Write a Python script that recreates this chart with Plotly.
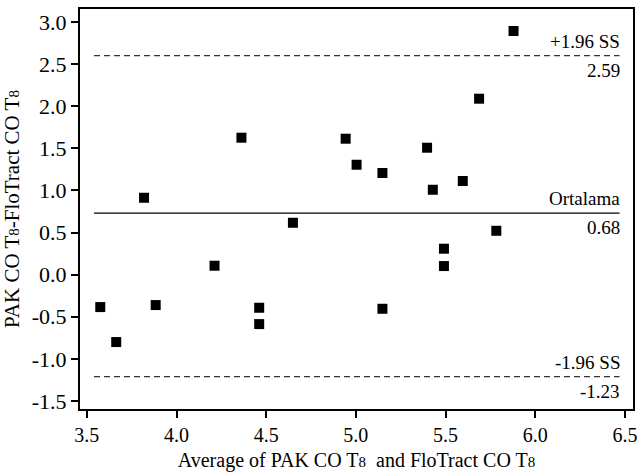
import plotly.graph_objects as go

# Data (Bland-Altman plot)
avg_values = [3.819, 4.362, 4.649, 5.879, 5.687, 4.943, 5.397, 5.004, 5.148, 5.429,
              5.596, 5.783, 3.575, 3.664, 3.884, 4.212, 4.461, 4.461, 5.491, 5.491, 5.148]
diff_values = [0.913, 1.626, 0.616, 2.893, 2.089, 1.614, 1.507, 1.305, 1.207, 1.008,
               1.112, 0.521, -0.385, -0.80, -0.361, 0.106, -0.393, -0.587, 0.308, 0.102, -0.405]

# Reference lines (drawn position) and their labels
line_levels = [2.60, 0.73, -1.21]
line_names = ["+1.96 SS", "Ortalama", "-1.96 SS"]
line_values = ["2.59", "0.68", "-1.23"]
line_dashes = ["dash", "solid", "dash"]
line_span = [3.54, 6.47]

x_ticks = [3.5, 4.0, 4.5, 5.0, 5.5, 6.0, 6.5]
x_ticktext = ["3.5", "4.0", "4.5", "5.0", "5.5", "6.0", "6.5"]
y_ticks = [-1.5, -1.0, -0.5, 0.0, 0.5, 1.0, 1.5, 2.0, 2.5, 3.0]
y_ticktext = ["-1.5", "-1.0", "-0.5", "0.0", "0.5", "1.0", "1.5", "2.0", "2.5", "3.0"]

FONT = "Liberation Serif, Times New Roman, serif"
sub8 = '<span style="font-size:15px">8</span>'

fig = go.Figure()
fig.add_trace(go.Scatter(
    x=avg_values, y=diff_values, mode="markers",
    marker=dict(symbol="square", size=10, color="black"),
    showlegend=False, hoverinfo="skip"))

for lvl, name, val, dash in zip(line_levels, line_names, line_values, line_dashes):
    fig.add_shape(type="line", xref="x", yref="y",
                  x0=line_span[0], x1=line_span[1], y0=lvl, y1=lvl,
                  line=dict(color="black" if dash == "solid" else "#333333",
                            width=1.3, dash="solid" if dash == "solid" else "6px,4px"))
    fig.add_annotation(x=line_span[1], y=lvl, xref="x", yref="y", text=name,
                       showarrow=False, xanchor="right", yanchor="bottom",
                       font=dict(size=19, color="black", family=FONT), yshift=2, xshift=2)
    fig.add_annotation(x=line_span[1], y=lvl, xref="x", yref="y", text=val,
                       showarrow=False, xanchor="right", yanchor="top",
                       font=dict(size=19, color="black", family=FONT), yshift=-2, xshift=2)

fig.update_xaxes(range=[3.462, 6.545], tickvals=x_ticks, ticktext=x_ticktext,
                 showgrid=False, zeroline=False, showline=True, linecolor="black",
                 linewidth=2, mirror=True, ticks="outside", ticklen=7, tickwidth=2,
                 tickcolor="black", ticklabeloverflow="allow", automargin=False,
                 tickfont=dict(size=20, color="black", family=FONT),
                 title=dict(text="Average of PAK CO T" + sub8 + "  and FloTract CO T" + sub8,
                            font=dict(size=20, color="black", family=FONT), standoff=8))
fig.update_yaxes(range=[-1.595, 3.154], tickvals=y_ticks, ticktext=y_ticktext,
                 showgrid=False, zeroline=False, showline=True, linecolor="black",
                 linewidth=2, mirror=True, ticks="outside", ticklen=7, tickwidth=2,
                 tickcolor="black", ticklabeloverflow="allow", automargin=False,
                 tickfont=dict(size=22, color="black", family=FONT),
                 title=dict(text="PAK CO T" + sub8 + "-FloTract CO T" + sub8,
                            font=dict(size=21, color="black", family=FONT), standoff=6))

fig.update_layout(width=637, height=476, margin=dict(l=80, r=4, t=9, b=67),
                  plot_bgcolor="white", paper_bgcolor="white",
                  font=dict(family=FONT, color="black"))
fig.write_html("out.html")
